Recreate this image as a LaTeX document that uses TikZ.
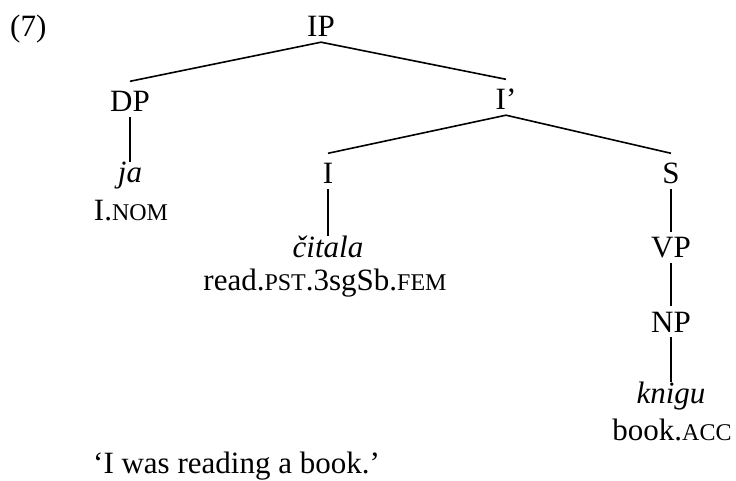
\documentclass[tikz,border=0pt]{standalone}
\usepackage{fontspec}
\setmainfont{Liberation Serif}
\newcommand{\glosssc}[1]{{\fontsize{24}{28}\selectfont #1}}

\begin{document}
\begin{tikzpicture}[
  x=1pt, y=-1pt,
  cat label/.style={anchor=base, inner xsep=0pt, inner ysep=5pt, text height=20.5pt, text depth=0pt, font=\fontsize{31}{37}\selectfont},
  word form/.style={anchor=base, inner xsep=0pt, inner ysep=1pt, text height=20pt, text depth=0pt, font=\fontsize{31}{37}\selectfont\itshape},
  gloss line/.style={anchor=base, inner sep=0pt, font=\fontsize{31}{37}\selectfont},
  branch/.style={line width=1.6pt}
]
  \useasboundingbox (0,0) rectangle (736,481);

  % example number
  \node[gloss line, anchor=base west] (exno) at (10,37) {(7)};

  % categories
  \node[cat label] (IP) at (321,37) {IP};
  \node[cat label] (DP) at (130,112) {DP};
  \node[cat label] (Ibar) at (506,110) {I’};
  \node[cat label] (I) at (328,184) {I};
  \node[cat label] (S) at (671,184) {S};
  \node[cat label] (VP) at (671,258) {VP};
  \node[cat label] (NP) at (671,332) {NP};

  % words and glosses
  \node[word form] (ja) at (130,183) {ja};
  \node[gloss line] (ja gloss) at (131,220) {I.\glosssc{NOM}};
  \node[word form] (citala) at (328,257) {čitala};
  \node[gloss line] (citala gloss) at (325,290) {read.\glosssc{PST}.3sgSb.\glosssc{FEM}};
  \node[word form] (knigu) at (671,403) {knigu};
  \node[gloss line] (knigu gloss) at (672,440) {book.\glosssc{ACC}};

  % free translation
  \node[gloss line, anchor=base west] (transl) at (93,473) {‘I was reading a book.’};

  % branches
  \foreach \mother/\daughter in {IP/DP, IP/Ibar, Ibar/I, Ibar/S}
    \draw[branch] (\mother.south) -- ([yshift=5pt]\daughter.north);
  \foreach \mother/\daughter in {DP/ja, I/citala, S/VP, VP/NP, NP/knigu}
    \draw[branch] (\mother.south) -- (\daughter.north);
\end{tikzpicture}
\end{document}
